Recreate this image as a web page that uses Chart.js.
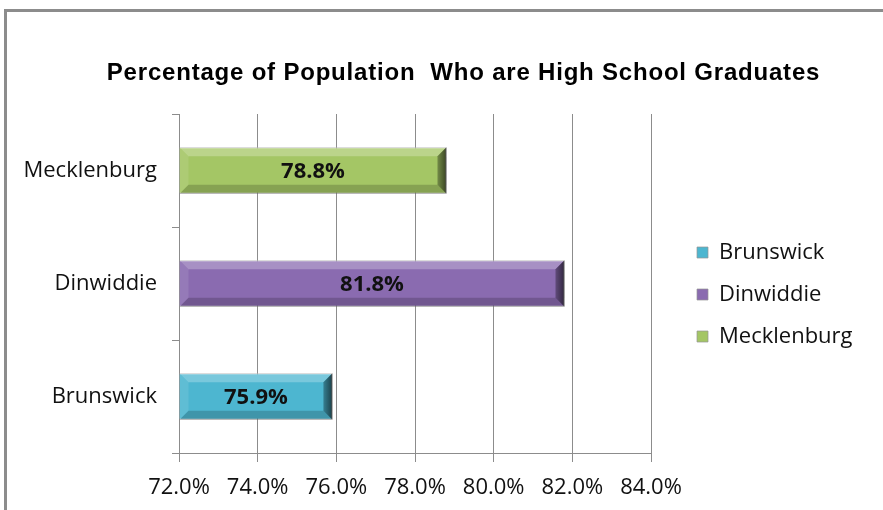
<!DOCTYPE html>
<html>
<head>
<meta charset="utf-8">
<script src="https://cdn.jsdelivr.net/npm/chart.js@4.4.0/dist/chart.umd.min.js"></script>
<style>
html,body{margin:0;padding:0;background:#fff;}
#wrap{position:relative;width:883px;height:510px;overflow:hidden;}
#frame{position:absolute;left:4px;top:9px;width:900px;height:520px;border-top:3px solid #8c8c8c;border-left:3px solid #8c8c8c;box-sizing:border-box;}
#c{position:absolute;left:0;top:0;}
</style>
</head>
<body>
<div id="wrap">
<div id="frame"></div>
<canvas id="c" width="883" height="510"></canvas>
</div>
<script>
const titleText = 'Percentage of Population  Who are High School Graduates';
const categories = ['Brunswick', 'Dinwiddie', 'Mecklenburg'];
const seriesNames = ['Brunswick', 'Dinwiddie', 'Mecklenburg'];
const seriesValues = [75.9, 81.8, 78.8];
const seriesColors = ['#4db6d0', '#8a6bb0', '#a4c665'];
const xMin = 72, xMax = 84, xStep = 2;

const FONT = '"Open Sans", Lato, sans-serif';

const datasets = seriesNames.map((name, i) => ({
  label: name,
  data: categories.map((c, j) => (j === i ? seriesValues[i] : null)),
  backgroundColor: seriesColors[i],
  borderColor: 'rgba(150,150,150,0.7)',
  borderWidth: 1,
  base: xMin,
  grouped: false,
  categoryPercentage: 1,
  barPercentage: 0.41
}));

const layoutHacks = {
  id: 'layoutHacks',
  afterInit(chart) {
    const lg = chart.legend;
    if (lg) {
      const fit = lg.fit;
      lg.fit = function () { fit.call(this); this.width = 232; };
      const draw = lg._draw;
      lg._draw = function () {
        const l = this.left, t = this.top, b = this.bottom;
        this.left += 26; this.top += 10; this.bottom += 10;
        draw.call(this);
        this.left = l; this.top = t; this.bottom = b;
      };
    }
    const tb = chart.titleBlock;
    if (tb) {
      const d = tb.draw;
      tb.draw = function () {
        const ctx = this.ctx;
        ctx.save();
        ctx.translate(22, 0);
        ctx.letterSpacing = '0.8px';
        d.apply(this, arguments);
        ctx.restore();
        ctx.letterSpacing = '0px';
      };
    }
  }
};

const bevelPlugin = {
  id: 'bevel',
  afterDatasetsDraw(chart) {
    const ctx = chart.ctx;
    chart.data.datasets.forEach((ds, i) => {
      const meta = chart.getDatasetMeta(i);
      meta.data.forEach((el, j) => {
        const v = ds.data[j];
        if (v === null || v === undefined) return;
        const p = el.getProps(['x', 'y', 'base', 'height'], true);
        const l = Math.min(p.x, p.base), r = Math.max(p.x, p.base);
        const t = p.y - p.height / 2, b = p.y + p.height / 2;
        const bv = 9;
        ctx.save();
        ctx.fillStyle = 'rgba(255,255,255,0.25)';
        ctx.beginPath();
        ctx.moveTo(l, t); ctx.lineTo(r, t); ctx.lineTo(r - bv, t + bv); ctx.lineTo(l + bv, t + bv); ctx.closePath(); ctx.fill();
        ctx.fillStyle = 'rgba(255,255,255,0.1)';
        ctx.beginPath();
        ctx.moveTo(l, t); ctx.lineTo(l + bv, t + bv); ctx.lineTo(l + bv, b - bv); ctx.lineTo(l, b); ctx.closePath(); ctx.fill();
        ctx.fillStyle = 'rgba(0,0,0,0.18)';
        ctx.beginPath();
        ctx.moveTo(l, b); ctx.lineTo(r, b); ctx.lineTo(r - bv, b - bv); ctx.lineTo(l + bv, b - bv); ctx.closePath(); ctx.fill();
        const g = ctx.createLinearGradient(r - bv, 0, r, 0);
        g.addColorStop(0, 'rgba(0,0,0,0.3)');
        g.addColorStop(1, 'rgba(0,0,0,0.65)');
        ctx.fillStyle = g;
        ctx.beginPath();
        ctx.moveTo(r, t); ctx.lineTo(r, b); ctx.lineTo(r - bv, b - bv); ctx.lineTo(r - bv, t + bv); ctx.closePath(); ctx.fill();
        ctx.fillStyle = '#111';
        ctx.font = 'bold 22px ' + FONT;
        ctx.textAlign = 'center';
        ctx.textBaseline = 'middle';
        ctx.fillText(v.toFixed(1) + '%', (l + r) / 2, p.y + 1);
        ctx.restore();
      });
    });
  }
};

new Chart(document.getElementById('c'), {
  type: 'bar',
  data: { labels: categories, datasets: datasets },
  options: {
    indexAxis: 'y',
    responsive: false,
    animation: false,
    layout: { padding: { top: 59, bottom: 0, left: 0, right: 0 } },
    plugins: {
      title: {
        display: true,
        text: titleText,
        color: '#000',
        font: { family: '"Liberation Sans", Arial, sans-serif', size: 24, weight: 'bold' },
        padding: { top: 0, bottom: 26.2 }
      },
      legend: {
        position: 'right',
        align: 'center',
        labels: {
          boxWidth: 11,
          boxHeight: 11,
          padding: 20,
          color: '#111',
          font: { family: FONT, size: 22 }
        }
      },
      tooltip: { enabled: false }
    },
    scales: {
      x: {
        min: xMin,
        max: xMax,
        afterFit: s => { s.height = 57; },
        ticks: {
          stepSize: xStep,
          color: '#111',
          padding: 13,
          maxRotation: 0,
          font: { family: FONT, size: 22 },
          callback: v => v.toFixed(1) + '%'
        },
        grid: { color: '#8c8c8c', lineWidth: 1, tickLength: 9 },
        border: { color: '#8c8c8c' }
      },
      y: {
        reverse: true,
        offset: true,
        afterFit: s => { s.width = 179; },
        ticks: {
          color: '#111',
          padding: 15,
          font: { family: FONT, size: 22 }
        },
        grid: { offset: true, drawOnChartArea: false, color: '#8c8c8c', tickLength: 7 },
        border: { color: '#8c8c8c' }
      }
    }
  },
  plugins: [layoutHacks, bevelPlugin]
});
</script>
</body>
</html>
